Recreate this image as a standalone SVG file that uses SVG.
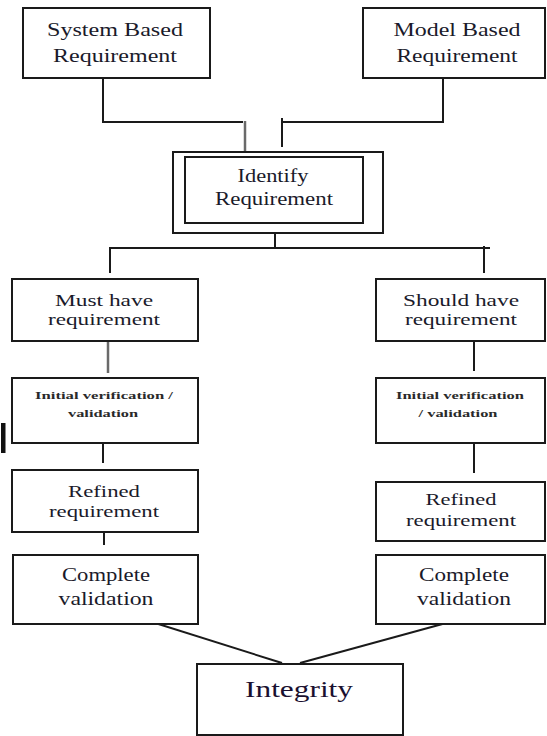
<svg xmlns="http://www.w3.org/2000/svg" width="547" height="736" viewBox="0 0 547 736" font-family="'Liberation Serif', 'DejaVu Serif', serif">
<style>
.box{fill:#fff;stroke:#1a1a1a;stroke-width:2}
text{font-family:'Liberation Serif', 'DejaVu Serif', serif}
.t{font-size:19px;fill:#1a1a2a;text-anchor:middle}
.m{font-size:17px;fill:#1a1a2a;text-anchor:middle}
.s{font-size:11px;font-weight:bold;fill:#2a2a2a;text-anchor:middle}
.big{font-size:24px;fill:#1a1030;text-anchor:middle}
.c{fill:none;stroke:#1a1a1a;stroke-width:2}
.g{fill:none;stroke:#6a6a6a;stroke-width:2.5}
</style>
<rect width="547" height="736" fill="#fff"/>
<g id="connectors">
<path class="c" d="M103,78 V122 H243"/>
<path class="g" d="M245,121 V152"/>
<path class="c" d="M443,78 V122 H282"/>
<path class="c" d="M282,118 V147"/>
<path class="c" d="M275,223 V248"/>
<path class="c" d="M110,273 V248 H490"/>
<path class="c" d="M484,246 V273"/>
<path class="g" d="M108,337 V373"/>
<path class="c" d="M103,428 V463"/>
<path class="c" d="M104,527 V545"/>
<path class="c" d="M474,334 V371"/>
<path class="c" d="M474,437 V473"/>
<path class="g" d="M470,525 V542"/>
<path class="c" d="M117,611 L282,663"/>
<path class="c" d="M490,611 L300,663"/>
</g>
<g id="system-based">
<rect class="box" x="23" y="8" width="187" height="70"/>
<text class="t" x="115" y="36" textLength="136" lengthAdjust="spacingAndGlyphs">System Based</text>
<text class="t" x="115" y="62" textLength="124" lengthAdjust="spacingAndGlyphs">Requirement</text>
</g>
<g id="model-based">
<rect class="box" x="363" y="8" width="182" height="70"/>
<text class="t" x="457" y="36" textLength="127" lengthAdjust="spacingAndGlyphs">Model Based</text>
<text class="t" x="457" y="62" textLength="121" lengthAdjust="spacingAndGlyphs">Requirement</text>
</g>
<g id="identify">
<rect class="box" x="173" y="152" width="210" height="81"/>
<rect class="box" x="185" y="157" width="178" height="66"/>
<text class="t" x="273" y="182" textLength="71" lengthAdjust="spacingAndGlyphs">Identify</text>
<text class="t" x="274" y="205" textLength="118" lengthAdjust="spacingAndGlyphs">Requirement</text>
</g>
<g id="must-have">
<rect class="box" x="12" y="279" width="186" height="62"/>
<text class="m" x="104" y="306" textLength="98" lengthAdjust="spacingAndGlyphs">Must have</text>
<text class="m" x="104" y="325" textLength="112" lengthAdjust="spacingAndGlyphs">requirement</text>
</g>
<g id="should-have">
<rect class="box" x="376" y="279" width="169" height="62"/>
<text class="m" x="461" y="306" textLength="116" lengthAdjust="spacingAndGlyphs">Should have</text>
<text class="m" x="461" y="325" textLength="112" lengthAdjust="spacingAndGlyphs">requirement</text>
</g>
<g id="initial-left">
<rect class="box" x="12" y="378" width="186" height="65"/>
<text class="s" x="104" y="399" textLength="138" lengthAdjust="spacingAndGlyphs">Initial verification /</text>
<text class="s" x="103" y="417" textLength="70" lengthAdjust="spacingAndGlyphs">validation</text>
</g>
<g id="initial-right">
<rect class="box" x="376" y="378" width="169" height="65"/>
<text class="s" x="460" y="399" textLength="128" lengthAdjust="spacingAndGlyphs">Initial verification</text>
<text class="s" x="458" y="417" textLength="79" lengthAdjust="spacingAndGlyphs">/ validation</text>
</g>
<g id="refined-left">
<rect class="box" x="12" y="470" width="186" height="62"/>
<text class="m" x="104" y="497" textLength="72" lengthAdjust="spacingAndGlyphs">Refined</text>
<text class="m" x="104" y="517" textLength="110" lengthAdjust="spacingAndGlyphs">requirement</text>
</g>
<g id="refined-right">
<rect class="box" x="376" y="482" width="169" height="59"/>
<text class="m" x="461" y="505" textLength="71" lengthAdjust="spacingAndGlyphs">Refined</text>
<text class="m" x="461" y="526" textLength="110" lengthAdjust="spacingAndGlyphs">requirement</text>
</g>
<g id="complete-left">
<rect class="box" x="13" y="555" width="185" height="69"/>
<text class="t" x="106" y="581" textLength="88" lengthAdjust="spacingAndGlyphs">Complete</text>
<text class="t" x="106" y="605" textLength="95" lengthAdjust="spacingAndGlyphs">validation</text>
</g>
<g id="complete-right">
<rect class="box" x="376" y="555" width="169" height="69"/>
<text class="t" x="464" y="581" textLength="90" lengthAdjust="spacingAndGlyphs">Complete</text>
<text class="t" x="464" y="605" textLength="94" lengthAdjust="spacingAndGlyphs">validation</text>
</g>
<g id="integrity">
<rect class="box" x="197" y="664" width="206" height="71"/>
<text class="big" x="299" y="697" textLength="108" lengthAdjust="spacingAndGlyphs">Integrity</text>
</g>
<rect x="1" y="423" width="4.5" height="30" fill="#111"/>
</svg>
